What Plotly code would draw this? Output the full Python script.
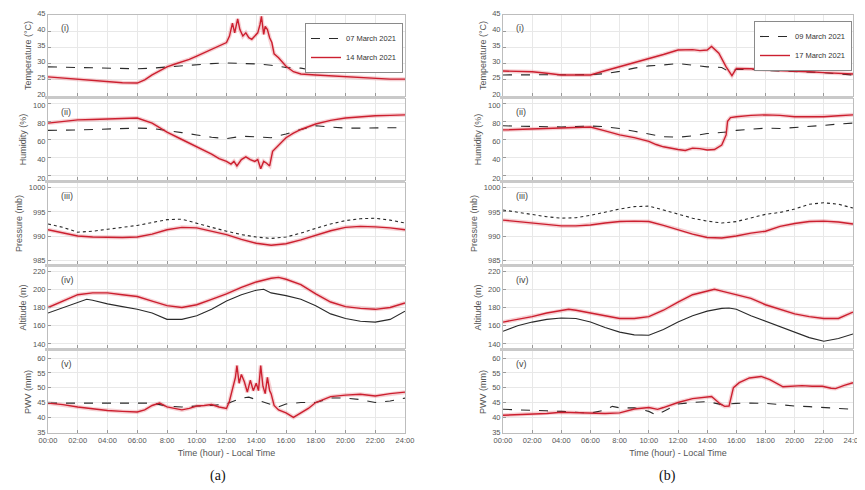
import plotly.graph_objects as go
from plotly.subplots import make_subplots

# ------------------------------------------------------------------
# DATA  (hours since 00:00 local time)
# ------------------------------------------------------------------
HOURS = list(range(25))

# ---------------- Panel (a): 07 March 2021 vs 14 March 2021 ----------------
a_temp_07_t = HOURS
a_temp_07 = [29.0, 28.9, 28.7, 28.6, 28.5, 28.4, 28.4, 28.6, 29.0, 29.4, 29.8, 30.0, 30.2,
             30.1, 29.9, 29.5, 28.8, 28.6, 27.8, 28.3, 28.5, 28.6, 28.6, 28.5, 28.5]
a_temp_14_t = [0, 1, 2, 3, 4, 5, 6, 6.5, 7, 7.5, 8, 8.5, 9, 9.5, 10, 10.5, 11, 11.5, 12,
               12.2, 12.4, 12.55, 12.75, 12.9, 13.1, 13.3, 13.5, 13.7, 13.9, 14.1, 14.25,
               14.35, 14.5, 14.6, 14.75, 14.9, 15.05, 15.2, 15.5, 16, 16.5, 17, 18, 19, 20,
               21, 22, 23, 24]
a_temp_14 = [25.9, 25.5, 25.2, 24.8, 24.4, 24.1, 24.0, 25.0, 26.5, 27.8, 29.0, 29.8, 30.5,
             31.3, 32.3, 33.3, 34.5, 35.3, 36.5, 38.5, 42.5, 39.5, 43.8, 40.5, 38.5, 39.5,
             38.0, 37.5, 38.5, 39.5, 42.0, 44.6, 39.0, 41.5, 40.5, 38.0, 36.5, 33.0, 31.8,
             29.2, 27.5, 26.8, 26.5, 26.2, 25.9, 25.6, 25.3, 25.2, 25.2]

a_hum_07_t = HOURS
a_hum_07 = [70, 70, 70.5, 71, 71.5, 72, 72.5, 72, 70, 67.5, 65, 62.5, 61, 63.5, 63, 62,
            66, 71, 75, 73.5, 72.5, 72.5, 72.5, 73, 73]
a_hum_14_t = [0, 1, 2, 3, 4, 5, 6, 7, 8, 9, 10, 10.5, 11, 11.5, 12, 12.3, 12.5, 12.7, 13.0,
              13.3, 13.6, 13.9, 14.1, 14.3, 14.5, 14.7, 14.9, 15.1, 15.4, 16, 16.5, 17, 18,
              19, 20, 21, 22, 23, 24]
a_hum_14 = [78, 80, 81.5, 82, 82.5, 83, 83.5, 78, 68, 60, 52, 48, 44, 39, 36, 33, 36, 31, 38,
            41, 38, 36, 38, 28, 36, 34, 31, 47, 52, 62, 67, 71, 77, 81, 83.5, 85, 86, 86.5, 87]

a_pres_07_t = HOURS
a_pres_07 = [992.5, 991.8, 990.8, 991.0, 991.4, 991.8, 992.2, 992.8, 993.4, 993.5, 992.6,
             991.8, 991.0, 990.3, 989.8, 989.5, 989.8, 990.6, 991.6, 992.5, 993.2, 993.6,
             993.7, 993.3, 992.7]
a_pres_14_t = HOURS
a_pres_14 = [991.3, 990.6, 990.0, 989.8, 989.7, 989.7, 989.8, 990.4, 991.3, 991.8, 991.7,
             991.0, 990.3, 989.3, 988.5, 988.1, 988.4, 989.2, 990.2, 991.1, 991.8, 992.0,
             991.9, 991.7, 991.3]

a_alt_07_t = [0, 1, 2, 2.6, 3, 4, 5, 6, 7, 8, 9, 10, 11, 12, 13, 14, 14.5, 15, 16, 17, 18,
              19, 20, 21, 22, 23, 24]
a_alt_07 = [174, 180, 186, 189, 188, 184, 181, 178, 174, 167, 167, 171, 178, 187, 194, 199,
            200, 196, 193, 189, 182, 173, 168, 165, 164, 167, 176]
a_alt_14_t = [0, 1, 2, 3, 4, 5, 6, 7, 8, 9, 10, 11, 12, 13, 14, 15, 15.5, 16, 17, 18, 19,
              20, 21, 22, 23, 24]
a_alt_14 = [180, 187, 194, 196, 196, 194, 192, 187, 182, 180, 183, 189, 195, 202, 208, 212,
            213, 211, 205, 195, 186, 181, 179, 178, 180, 185]

a_pwv_07_t = [0, 1, 2, 3, 4, 5, 6, 7, 8, 9, 10, 11, 12, 12.5, 13, 13.5, 14, 14.5, 15, 15.5,
              16, 17, 18, 19, 20, 21, 22, 23, 24]
a_pwv_07 = [44.8, 44.8, 44.8, 44.8, 44.8, 44.8, 44.8, 44.8, 43.8, 43.5, 43.8, 44.0, 44.5,
            45.5, 46.5, 46.8, 46.0, 45.3, 44.5, 43.5, 44.5, 45.0, 45.0, 46.5, 46.5, 46.0,
            45.0, 45.5, 46.5]
a_pwv_14_t = [0, 1, 2, 3, 4, 5, 6, 6.5, 7, 7.5, 8, 8.5, 9, 9.5, 10, 10.5, 11, 11.5, 12,
              12.2, 12.4, 12.6, 12.7, 12.85, 13.0, 13.2, 13.4, 13.6, 13.8, 14.0, 14.15, 14.3,
              14.45, 14.6, 14.75, 14.9, 15.0, 15.2, 15.5, 16, 16.5, 17, 17.5, 18, 19, 20, 21,
              22, 23, 24]
a_pwv_14 = [44.8, 44.3, 43.5, 42.8, 42.3, 42.0, 41.8, 42.5, 44.0, 44.8, 43.5, 43.0, 42.5,
            43.0, 43.8, 44.0, 44.3, 43.5, 43.0, 45.5, 50.0, 53.5, 57.5, 51.5, 54.5, 52.0,
            48.5, 52.5, 49.0, 51.5, 49.0, 57.5, 50.5, 48.0, 53.5, 49.0, 48.0, 44.0, 42.5,
            41.5, 40.0, 41.5, 43.0, 45.0, 47.0, 47.5, 47.8, 47.2, 48.0, 48.5]

# ---------------- Panel (b): 09 March 2021 vs 17 March 2021 ----------------
b_temp_09_t = [0, 1, 2, 3, 4, 5, 6, 7, 8, 9, 10, 11, 12, 13, 14, 15, 15.5, 16, 17, 18, 19,
               20, 21, 22, 23, 24]
b_temp_09 = [26.5, 26.5, 26.4, 26.4, 26.5, 26.5, 26.6, 26.9, 27.6, 28.6, 29.3, 29.6, 30.0,
             29.5, 29.0, 28.8, 27.5, 28.2, 28.2, 27.9, 27.7, 27.5, 27.5, 27.2, 26.8, 26.5]
b_temp_17_t = [0, 1, 2, 3, 4, 5, 6, 7, 8, 9, 10, 11, 12, 13, 13.5, 14, 14.3, 14.8, 15.3,
               15.7, 16, 17, 18, 19, 20, 21, 22, 23, 24]
b_temp_17 = [27.7, 27.6, 27.5, 27.0, 26.5, 26.5, 26.5, 27.8, 29.0, 30.3, 31.5, 32.8, 34.2,
             34.3, 34.0, 34.2, 35.3, 33.2, 29.0, 26.3, 28.5, 28.4, 28.0, 27.9, 27.8, 27.5,
             27.2, 27.0, 26.8]

b_hum_09_t = [0, 1, 2, 3, 4, 5, 6, 7, 8, 9, 10, 11, 12, 13, 14, 15, 15.5, 16, 17, 18, 19,
              20, 21, 22, 23, 24]
b_hum_09 = [75, 74.5, 74, 73.8, 73.7, 74.2, 74.8, 74, 72, 69, 66, 63, 62.5, 64, 66.5, 67.5,
            68.5, 70, 71, 72.5, 72, 73, 74.5, 75.5, 77, 78]
b_hum_17_t = [0, 1, 2, 3, 4, 5, 6, 7, 8, 9, 10, 10.5, 11, 12, 12.5, 13, 13.5, 14, 14.5, 15,
              15.3, 15.4, 15.6, 16, 17, 18, 19, 20, 21, 22, 23, 24]
b_hum_17 = [70.5, 71, 71.8, 72.3, 72.6, 73.2, 73.7, 69.5, 65, 62, 58, 54.5, 52, 49, 48,
            50.5, 50, 48.5, 49, 54, 65, 80, 84, 85, 86.5, 87, 86.5, 85, 85, 85, 86, 87]

b_pres_09_t = HOURS
b_pres_09 = [995.4, 994.9, 994.4, 994.0, 993.7, 993.8, 994.3, 995.0, 995.6, 996.1, 996.2,
             995.4, 994.5, 993.7, 993.1, 992.7, 993.0, 993.8, 994.5, 994.9, 995.6, 996.6,
             996.9, 996.6, 995.8]
b_pres_17_t = HOURS
b_pres_17 = [993.3, 993.0, 992.7, 992.4, 992.1, 992.1, 992.3, 992.7, 993.0, 993.1, 993.0,
             992.2, 991.3, 990.4, 989.7, 989.6, 990.0, 990.6, 991.0, 992.0, 992.6, 993.0,
             993.1, 992.9, 992.5]

b_alt_09_t = [0, 1, 2, 3, 4, 5, 6, 7, 8, 9, 10, 11, 12, 13, 14, 15, 15.5, 16, 17, 18, 19,
              20, 21, 22, 23, 24]
b_alt_09 = [154, 160, 164, 167, 168.5, 168, 164, 158, 153, 150, 149.5, 156, 164, 171, 176,
            179, 179.5, 178, 171, 165, 159, 153, 147, 143, 146, 151]
b_alt_17_t = [0, 1, 2, 3, 4, 4.5, 5, 6, 7, 8, 9, 10, 11, 12, 13, 14, 14.5, 15, 16, 17, 18,
              19, 20, 21, 22, 23, 24]
b_alt_17 = [164, 167, 170, 174, 177, 178, 177, 174, 171, 168, 168, 170, 177, 186, 194, 198,
            200, 198, 194, 190, 183, 178, 173, 170, 168, 168, 175]

b_pwv_09_t = [0, 1, 2, 3, 4, 5, 6, 7, 7.5, 8, 9, 10, 10.5, 11, 12, 13, 14, 15, 16, 17, 18,
              19, 20, 21, 22, 23, 24]
b_pwv_09 = [42.7, 42.6, 42.4, 42.2, 42.0, 41.8, 41.4, 42.5, 43.7, 43.2, 43.2, 42.0, 40.8,
            42.0, 44.5, 45.0, 45.3, 44.3, 44.7, 44.8, 44.7, 44.3, 43.8, 43.6, 43.3, 43.0, 42.7]
b_pwv_17_t = [0, 1, 2, 3, 4, 5, 6, 7, 8, 9, 10, 10.6, 11, 12, 13, 14, 14.3, 14.9, 15.2,
              15.5, 15.8, 16.2, 16.9, 17.7, 18.3, 19.2, 20, 20.5, 21.2, 21.9, 22.5, 22.8,
              23.4, 24]
b_pwv_17 = [40.7, 40.9, 41.0, 41.3, 41.7, 41.5, 41.3, 41.3, 41.5, 42.8, 43.3, 42.7, 43.3,
            45.0, 46.3, 46.8, 47.0, 44.5, 43.7, 43.8, 50.0, 51.7, 53.3, 53.8, 52.7, 50.3,
            50.5, 50.7, 50.5, 50.5, 49.8, 49.7, 50.8, 51.7]

# axis labelling
Y_TITLES = ["Temperature (°C)", "Humidity (%)", "Pressure (mb)", "Altitude (m)", "PWV (mm)"]
Y_TICKS = [[20, 25, 30, 35, 40, 45], [20, 40, 60, 80, 100], [985, 990, 995, 1000],
           [140, 160, 180, 200, 220], [35, 40, 45, 50, 55, 60]]
Y_RANGES = [[20, 45], [15.6, 104.4], [984.2, 1001], [135.6, 224.4], [34.7, 62.4]]
PANEL_TAGS = ["(i)", "(ii)", "(iii)", "(iv)", "(v)"]
X_TICKVALS = list(range(0, 25, 2))
X_TICKTEXT = ["00:00", "02:00", "04:00", "06:00", "8:00", "10:00", "12:00", "14:00",
              "16:00", "18:00", "20:00", "22:00", "24:00"]
LEGEND_A = ["07 March 2021", "14 March 2021"]
LEGEND_B = ["09 March 2021", "17 March 2021"]

# ------------------------------------------------------------------
# FIGURE  (page body has an 8 px margin, so the figure is 8 px smaller
#          and every screen position is shifted by 8 px)
# ------------------------------------------------------------------
OFF = 8
W, H = 865 - OFF, 490 - OFF
ROWS_PX = [(15, 96), (99, 180), (183, 264), (267, 348), (351, 433)]
COLS_PX = [(48, 405), (503, 853)]
LABEL_SHIFT = [-2, 2, 0, 0, 0]   # keep "20" / "100" at the joint apart


def fx(px):
    return (px - OFF) / W


def fy(py):
    return 1 - (py - OFF) / H


BLACK = "#2a2a2a"
RED = "#cc1f2f"
BLACK_DASH = ["dash", "dash", "dot", "solid", "dash"]

fig = make_subplots(rows=5, cols=2)

panels = [
    [(a_temp_07_t, a_temp_07, a_temp_14_t, a_temp_14),
     (a_hum_07_t, a_hum_07, a_hum_14_t, a_hum_14),
     (a_pres_07_t, a_pres_07, a_pres_14_t, a_pres_14),
     (a_alt_07_t, a_alt_07, a_alt_14_t, a_alt_14),
     (a_pwv_07_t, a_pwv_07, a_pwv_14_t, a_pwv_14)],
    [(b_temp_09_t, b_temp_09, b_temp_17_t, b_temp_17),
     (b_hum_09_t, b_hum_09, b_hum_17_t, b_hum_17),
     (b_pres_09_t, b_pres_09, b_pres_17_t, b_pres_17),
     (b_alt_09_t, b_alt_09, b_alt_17_t, b_alt_17),
     (b_pwv_09_t, b_pwv_09, b_pwv_17_t, b_pwv_17)],
]
legend_names = [LEGEND_A, LEGEND_B]
legend_ids = ["legend", "legend2"]

for c, panel in enumerate(panels, start=1):
    for r, (tk, vk, tr, vr) in enumerate(panel, start=1):
        first = (r == 1)
        # pink halo under red line (blur look of the original)
        fig.add_trace(go.Scatter(x=tr, y=vr, mode="lines", showlegend=False,
                                 line=dict(color="rgba(230,120,130,0.35)", width=4),
                                 hoverinfo="skip"), row=r, col=c)
        fig.add_trace(go.Scatter(x=tk, y=vk, mode="lines", name=legend_names[c - 1][0],
                                 showlegend=first, legend=legend_ids[c - 1],
                                 line=dict(color=BLACK, width=1.1, dash=BLACK_DASH[r - 1])),
                      row=r, col=c)
        fig.add_trace(go.Scatter(x=tr, y=vr, mode="lines", name=legend_names[c - 1][1],
                                 showlegend=first, legend=legend_ids[c - 1],
                                 line=dict(color=RED, width=1.4)),
                      row=r, col=c)

TICK_FONT = dict(family="Liberation Sans, Arial, sans-serif", size=7.5, color="#555")
TITLE_FONT = dict(family="Liberation Sans, Arial, sans-serif", size=9, color="#555")

for r, (top, bot) in enumerate(ROWS_PX, start=1):
    for c, (lft, rgt) in enumerate(COLS_PX, start=1):
        fig.update_xaxes(domain=[fx(lft), fx(rgt)], range=[0, 24], automargin=False,
                         tickvals=X_TICKVALS, ticktext=X_TICKTEXT,
                         ticklabeloverflow="allow",
                         showticklabels=(r == 5), ticks="inside", ticklen=3,
                         tickcolor="#999", showgrid=True, gridcolor="#e8e8e8",
                         showline=True, mirror=True, linecolor="#bdbdbd", linewidth=1,
                         zeroline=False, tickfont=TICK_FONT, row=r, col=c)
        fig.update_yaxes(domain=[fy(bot), fy(top)], range=Y_RANGES[r - 1],
                         automargin=False, ticklabelshift=LABEL_SHIFT[r - 1],
                         tickvals=Y_TICKS[r - 1], ticks="inside", ticklen=3,
                         tickcolor="#999", showgrid=True, gridcolor="#e8e8e8",
                         showline=True, mirror=True, linecolor="#bdbdbd", linewidth=1,
                         zeroline=False, tickfont=TICK_FONT,
                         title=dict(text=Y_TITLES[r - 1], font=TITLE_FONT, standoff=4),
                         row=r, col=c)
        if r == 5:
            fig.update_xaxes(title=dict(text="Time (hour) - Local Time", font=TITLE_FONT,
                                        standoff=5), row=r, col=c)

# gray separator bands between stacked subplots
shapes = []
for i in range(4):
    for (lft, rgt) in COLS_PX:
        shapes.append(dict(type="rect", xref="paper", yref="paper",
                           x0=fx(lft - 3), x1=fx(rgt), y0=fy(ROWS_PX[i + 1][0]),
                           y1=fy(ROWS_PX[i][1]),
                           fillcolor="#c9c9c9", line=dict(width=0), layer="above"))

annotations = []
for c in range(2):
    for r in range(5):
        idx = r * 2 + c + 1
        xa = "x" if idx == 1 else f"x{idx}"
        ya = "y" if idx == 1 else f"y{idx}"
        annotations.append(dict(text=PANEL_TAGS[r], xref=f"{xa} domain", yref=f"{ya} domain",
                                x=0.03, y=0.93, xanchor="left", yanchor="top",
                                showarrow=False,
                                font=dict(family="Liberation Sans, Arial", size=9,
                                          color="#444")))
for txt, xc in [("(a)", 218), ("(b)", 667)]:
    annotations.append(dict(text=txt, xref="paper", yref="paper", x=fx(xc),
                            y=fy(476), xanchor="center", yanchor="middle",
                            showarrow=False,
                            font=dict(family="Liberation Serif, Times New Roman, serif",
                                      size=14, color="#111")))

LEG = dict(bgcolor="white", bordercolor="#8a8a8a", borderwidth=1,
           font=dict(family="Liberation Sans, Arial", size=7.5, color="#333"),
           tracegroupgap=0, itemwidth=30, xanchor="left", yanchor="top",
           xref="paper", yref="paper")

fig.update_layout(
    width=W, height=H, margin=dict(l=0, r=0, t=0, b=0, autoexpand=False),
    paper_bgcolor="white", plot_bgcolor="white",
    shapes=shapes, annotations=annotations,
    legend=dict(LEG, x=fx(305), y=fy(23)),
    legend2=dict(LEG, x=fx(754), y=fy(21)),
)

fig.write_html("out.html")
